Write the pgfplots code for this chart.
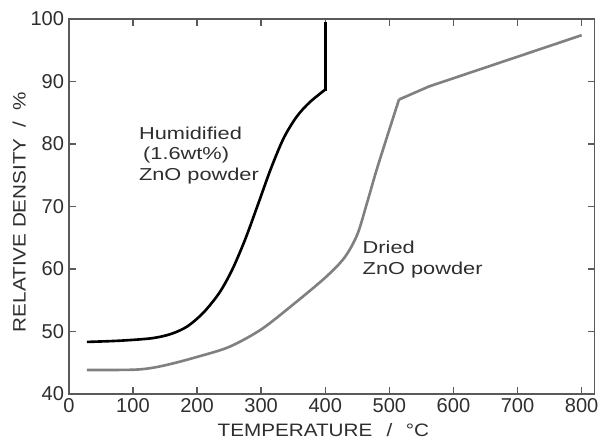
\documentclass[border=0pt]{standalone}
\usepackage{pgfplots}
\pgfplotsset{compat=1.18}
\usepackage{fontspec}
\setmainfont{Liberation Sans}
\newfontfamily\widefont[FakeStretch=1.26]{Liberation Sans}
\newfontfamily\labfont[FakeStretch=1.15]{Liberation Sans}
\definecolor{axgray}{HTML}{5A5A5A}
\definecolor{curvegray}{HTML}{808080}
\definecolor{txt}{HTML}{2E2E2E}
\begin{document}
\begin{tikzpicture}
\begin{axis}[
  scale only axis,
  width=380pt, height=271pt,
  xmin=0, xmax=820, ymin=40, ymax=100,
  xtick={0,100,...,800}, ytick={40,50,...,100},
  tick align=inside,
  major tick length=5pt,
  axis line style={axgray, line width=1.1pt},
  every tick/.style={axgray, line width=1pt},
  /pgf/number format/assume math mode=true,
  tick label style={font=\fontsize{14.5}{15}\selectfont, color=txt},
  xlabel={TEMPERATURE\hspace{0.8em}/\hspace{0.75em}°C},
  ylabel={RELATIVE DENSITY\hspace{0.6em}/\hspace{0.65em}\%},
  label style={font=\labfont\fontsize{13}{14}\selectfont, color=txt, inner sep=0pt},
  xlabel style={at={([xshift=-6pt,yshift=-21.5pt]axis description cs:0.5,0)}, anchor=north},
  ylabel style={at={([xshift=-31pt,yshift=-4pt]axis description cs:0,0.5)}, anchor=south},
  clip=false,
]
\addplot[black, line width=1.9pt, smooth] coordinates {
 (28,48.3) (80,48.5) (130,48.9) (160,49.6) (185,50.8) (210,53.0) (235,56.2) (255,59.9) (275,64.7) (295,70.3) (315,76.0) (335,80.9) (355,84.3) (375,86.6) (400,88.7)
};
\addplot[black, line width=1.9pt] coordinates {(400,88.5) (400,99.5)};
\addplot[curvegray, line width=1.9pt, smooth] coordinates {
 (28,43.8) (100,43.85) (130,44.15) (160,44.8) (200,45.9) (250,47.5) (300,50.3) (350,54.3) (400,58.6) (430,61.8) (450,65.5) (465,70.5) (480,75.8) (500,82.3) (515,87.1)
};
\addplot[curvegray, line width=1.9pt] coordinates {(515,87.1) (562,89.2) (800,97.4)};
\node[anchor=north west, align=left, inner sep=0pt, font=\widefont\fontsize{12.5}{14.8}\selectfont, color=txt] at (axis cs:109,82.8) {Humidified\\\hspace{3pt}(1.6wt\%)\\ZnO powder};
\node[anchor=north west, align=left, inner sep=0pt, font=\widefont\fontsize{12.5}{14.8}\selectfont, color=txt] at (axis cs:458,64.5) {Dried\\ZnO powder};
\end{axis}
\path ([xshift=-49.8pt,yshift=13.7pt]current axis.north west);
\path ([xshift=5pt,yshift=-36pt]current axis.south east);
\end{tikzpicture}
\end{document}
